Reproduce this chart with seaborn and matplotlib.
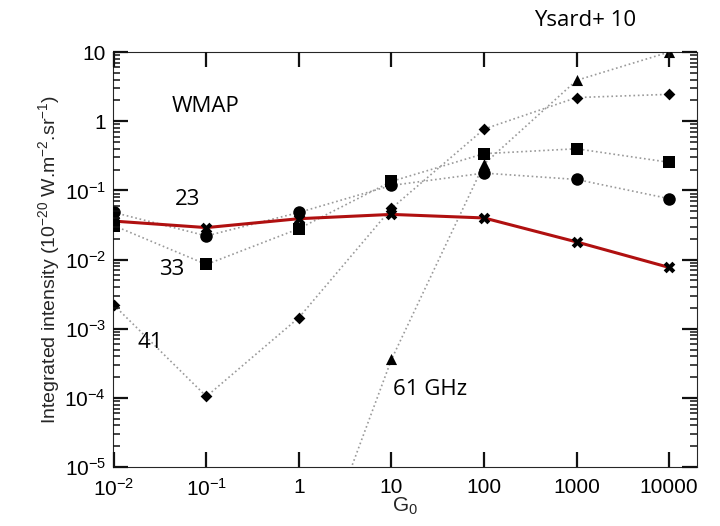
import numpy as np
import pandas as pd
import matplotlib
matplotlib.use("Agg")
import matplotlib.pyplot as plt
import seaborn as sns
from matplotlib.ticker import FixedLocator, FixedFormatter, NullLocator

# ---- data ----
g0 = [0.01, 0.1, 1, 10, 100, 1000, 10000]
cross_23 = [0.036, 0.029, 0.039, 0.045, 0.040, 0.018, 0.0077]
circle = [0.048, 0.022, 0.048, 0.118, 0.178, 0.144, 0.076]
square = [0.031, 0.0085, 0.028, 0.135, 0.34, 0.40, 0.255]
diamond = [0.0022, 0.000105, 0.00145, 0.055, 0.77, 2.2, 2.45]
g0_tri = [1, 10, 100, 1000, 10000]
triangle = [9e-8, 0.00036, 0.24, 3.9, 10.0]

xticks = [0.01, 0.1, 1, 10, 100, 1000, 10000]
xticklabels = [r"$10^{-2}$", r"$10^{-1}$", "1", "10", "100", "1000", "10000"]
yticks = [1e-5, 1e-4, 1e-3, 1e-2, 1e-1, 1, 10]
yticklabels = [r"$10^{-5}$", r"$10^{-4}$", r"$10^{-3}$", r"$10^{-2}$", r"$10^{-1}$", "1", "10"]

annotations = ["Ysard+ 10", "WMAP", "23", "33", "41", "61 GHz"]

sns.set_style("ticks")
plt.rcParams['font.family'] = ['Liberation Sans', 'DejaVu Sans']
plt.rcParams['mathtext.fontset'] = 'custom'
plt.rcParams['mathtext.rm'] = 'Liberation Sans'
plt.rcParams['mathtext.it'] = 'Liberation Sans'

fig = plt.figure(figsize=(7.2, 5.26), dpi=100)
ax = fig.add_axes([0.157, 0.112, 0.811, 0.789])

dot_color = "#9a9a9a"
series = [
    (g0, circle, "o", 9),
    (g0, square, "s", 8),
    (g0, diamond, "D", 6),
    (g0_tri, triangle, "^", 8),
]
for xs, ys, m, ms in series:
    df = pd.DataFrame({"x": xs, "y": ys})
    sns.lineplot(data=df, x="x", y="y", ax=ax, color=dot_color, linestyle=":",
                 linewidth=1.2, zorder=2)
    sns.scatterplot(data=df, x="x", y="y", ax=ax, marker=m, s=ms**2, color="black",
                    edgecolor="black", linewidth=0, zorder=4)

df23 = pd.DataFrame({"x": g0, "y": cross_23})
sns.lineplot(data=df23, x="x", y="y", ax=ax, color="#b01010", linewidth=2.2, zorder=3)
sns.scatterplot(data=df23, x="x", y="y", ax=ax, marker="X", s=70, color="black",
                edgecolor="black", linewidth=0, zorder=5)

ax.set_xscale("log")
ax.set_yscale("log")
ax.set_xlim(0.0098, 20000)
ax.set_ylim(1e-5, 10)

ax.xaxis.set_major_locator(FixedLocator(xticks))
ax.xaxis.set_major_formatter(FixedFormatter(xticklabels))
ax.xaxis.set_minor_locator(NullLocator())
ax.yaxis.set_major_locator(FixedLocator(yticks))
ax.yaxis.set_major_formatter(FixedFormatter(yticklabels))
ax.yaxis.set_minor_locator(NullLocator())

# tick labels only; tick marks drawn as line segments below
ax.tick_params(which="both", length=0, labelcolor="black")
ax.tick_params(axis="x", labelsize=15, pad=8)
ax.tick_params(axis="y", labelsize=15, pad=5)

tick_col = "#111111"
maj_x = 15 / 415.0   # major tick length as axes fraction (vertical ticks)
maj_y = 15 / 584.0   # major tick length as axes fraction (horizontal ticks)
min_y = 7 / 584.0
xt = ax.get_xaxis_transform()
yt = ax.get_yaxis_transform()
ax.vlines(xticks, 0, maj_x, transform=xt, colors=tick_col, linewidth=1.6, zorder=6, clip_on=False)
ax.vlines(xticks, 1 - maj_x, 1, transform=xt, colors=tick_col, linewidth=1.6, zorder=6, clip_on=False)
ax.hlines(yticks, 0, maj_y, transform=yt, colors=tick_col, linewidth=1.6, zorder=6, clip_on=False)
ax.hlines(yticks, 1 - maj_y, 1, transform=yt, colors=tick_col, linewidth=1.6, zorder=6, clip_on=False)
yminor = [d * s for d in yticks[:-1] for s in range(2, 10)]
ax.hlines(yminor, 0, min_y, transform=yt, colors=tick_col, linewidth=1.1, zorder=6, clip_on=False)
ax.hlines(yminor, 1 - min_y, 1, transform=yt, colors=tick_col, linewidth=1.1, zorder=6, clip_on=False)

ax.set_xlabel(r"G$_0$", fontsize=15, labelpad=-3)
ax.set_ylabel(r"Integrated intensity (10$^{-20}$ W.m$^{-2}$.sr$^{-1}$)", fontsize=14, labelpad=2)

ann_pos = [(0.808, 1.077), (0.158, 0.868), (0.128, 0.644), (0.101, 0.475), (0.063, 0.299), (0.543, 0.188)]
for txt, (px, py) in zip(annotations, ann_pos):
    ax.text(px, py, txt, transform=ax.transAxes, ha="center", va="center",
            fontsize=16, color="black", family="Open Sans", clip_on=False)

fig.savefig("out.png", dpi=100)
